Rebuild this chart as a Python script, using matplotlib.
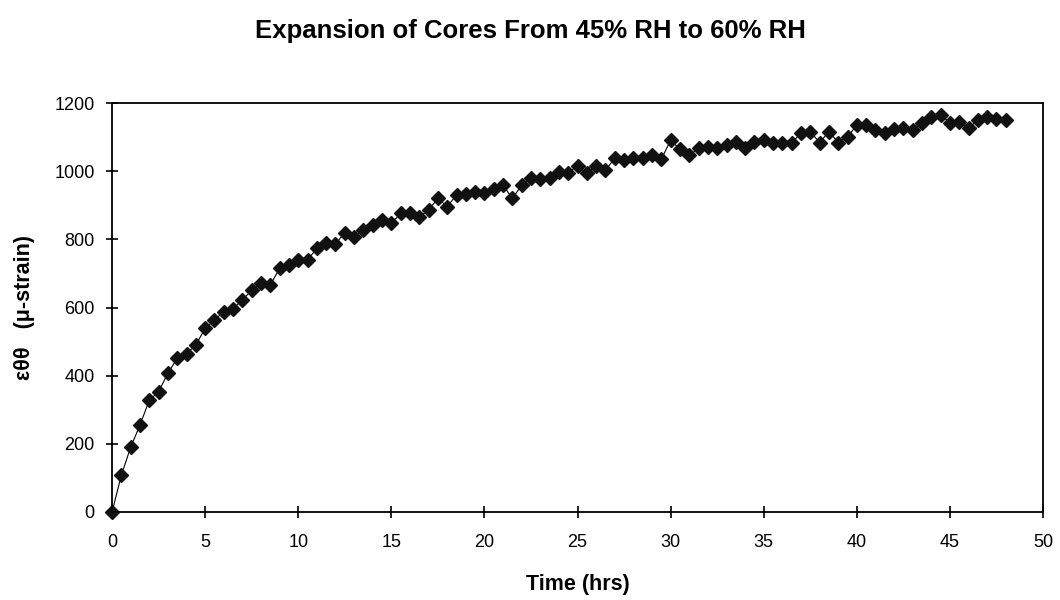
import numpy as np
import matplotlib.pyplot as plt

plt.rcParams['font.family'] = ['Liberation Sans', 'DejaVu Sans']

# time in hours, strain in micro-strain
time_hrs = np.arange(0, 48.5, 0.5)
strain = [0, 108, 190, 255, 328, 353, 407, 451, 465, 490,
          539, 563, 588, 597, 622, 651, 671, 666, 715, 725,
          739, 739, 774, 788, 786, 820, 808, 827, 842, 857,
          847, 876, 878, 866, 886, 920, 896, 930, 933, 940,
          935, 947, 959, 920, 959, 979, 976, 979, 998, 996,
          1015, 994, 1015, 1003, 1038, 1033, 1038, 1038, 1047, 1035,
          1091, 1064, 1047, 1067, 1072, 1068, 1077, 1087, 1067, 1087,
          1091, 1084, 1084, 1084, 1111, 1116, 1084, 1116, 1084, 1101,
          1135, 1135, 1121, 1111, 1123, 1128, 1121, 1140, 1158, 1165,
          1142, 1145, 1126, 1150, 1160, 1152, 1150]

x_ticks = np.arange(0, 51, 5)
y_ticks = np.arange(0, 1201, 200)

fig = plt.figure(figsize=(10.6, 6), dpi=100)
ax = fig.add_axes([0.1057, 0.1467, 0.8783, 0.6816])

ax.plot(time_hrs, strain, color='black', lw=0.8, marker='D', ms=7,
        mfc='#111111', mec='#111111', clip_on=False)

ax.set_xlim(0, 50)
ax.set_ylim(0, 1200)
ax.set_xticks(x_ticks)
ax.set_yticks(y_ticks)
ax.tick_params(direction='inout', length=9, width=1.2, labelsize=13)
ax.tick_params(axis='y', pad=8)
ax.tick_params(axis='x', pad=11)
for s in ax.spines.values():
    s.set_linewidth(1.3)

ax.set_xlabel('Time (hrs)', fontsize=15.5, fontweight='bold', labelpad=17)
ax.set_ylabel('εθθ   (μ-strain)', fontsize=15.5, fontweight='bold', labelpad=14)
fig.text(0.5, 0.948, 'Expansion of Cores From 45% RH to 60% RH',
         ha='center', va='center', fontsize=18.5, fontweight='bold')

fig.savefig('out.png', dpi=100)
